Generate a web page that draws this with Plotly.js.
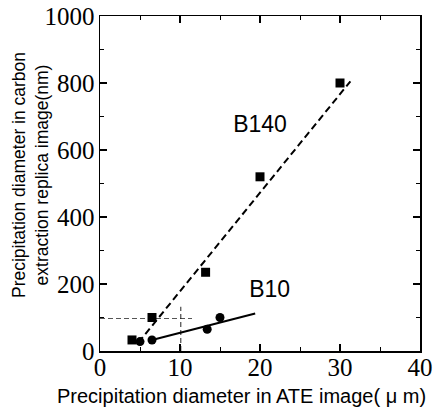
<!DOCTYPE html>
<html><head><meta charset="utf-8">
<script src="https://cdn.plot.ly/plotly-3.0.1.min.js"></script>
<style>html,body{margin:0;padding:0;background:#fff}#chart{width:433px;height:412px}</style>
</head><body><div id="chart"></div>
<script>
// B140 data (squares)
const b140X = [4, 6.5, 13.2, 20, 30];
const b140Y = [33, 100, 235, 520, 800];
// B10 data (circles)
const b10X = [5, 6.5, 13.4, 15];
const b10Y = [28, 33, 65, 100];
// fit lines
const b140FitX = [4.8, 31.3];
const b140FitY = [25, 805];
const b10FitX = [6.5, 19.4];
const b10FitY = [33, 112];
// guide lines
const guideHX = [0, 11.5];
const guideHY = [97, 97];
const guideVX = [10.1, 10.1];
const guideVY = [0, 132];
// labels
const labelText = ['B140', 'B10'];
const labelX = [20, 21.2];
const labelY = [670, 178];
const xTitle = 'Precipitation diameter in ATE image( μ m)';
const yTitle = 'Precipitation diameter in carbon<br>extraction replica image(nm)';

const sans = "'Liberation Sans', Arial, sans-serif";
const serif = "'Liberation Serif', 'Times New Roman', serif";

const traces = [
  {x: guideHX, y: guideHY, mode: 'lines', line: {color: '#555', width: 1, dash: '5px,3px'}, hoverinfo: 'skip'},
  {x: guideVX, y: guideVY, mode: 'lines', line: {color: '#222', width: 1, dash: '5px,3px'}, hoverinfo: 'skip'},
  {x: b140FitX, y: b140FitY, mode: 'lines', line: {color: '#000', width: 2, dash: '7px,4px'}},
  {x: b10FitX, y: b10FitY, mode: 'lines', line: {color: '#000', width: 2}},
  {x: b140X, y: b140Y, mode: 'markers', marker: {symbol: 'square', size: 9, color: '#000'}, cliponaxis: false},
  {x: b10X, y: b10Y, mode: 'markers', marker: {symbol: 'circle', size: 9, color: '#000'}, cliponaxis: false},
  {x: labelX, y: labelY, mode: 'text', text: labelText, textfont: {family: sans, size: 23, color: '#000'}, textposition: 'middle center'}
];

const axisCommon = {
  showline: true, linecolor: '#000', linewidth: 1.5, mirror: 'allticks',
  ticks: 'inside', ticklen: 7, tickwidth: 1.2, tickcolor: '#000',
  showgrid: false, zeroline: false,
  tickfont: {family: serif, size: 25, color: '#000'},
  fixedrange: true
};

const layout = {
  width: 433, height: 412,
  margin: {l: 100, r: 13, t: 16, b: 61},
  showlegend: false,
  paper_bgcolor: '#fff', plot_bgcolor: '#fff',
  xaxis: Object.assign({}, axisCommon, {
    range: [0, 40], dtick: 10, tick0: 0, ticklabelstandoff: -7,
    minor: {dtick: 5, ticks: 'inside', ticklen: 4, tickcolor: '#000', tickwidth: 1}
  }),
  yaxis: Object.assign({}, axisCommon, {
    range: [0, 1000], dtick: 200, tick0: 0, ticklabelstandoff: -1,
    minor: {dtick: 100, ticks: 'inside', ticklen: 4, tickcolor: '#000', tickwidth: 1}
  }),
  annotations: [
    {text: xTitle, xref: 'paper', yref: 'paper', x: 0.441, y: -0.134, xanchor: 'center', yanchor: 'middle',
     showarrow: false, font: {family: sans, size: 20, color: '#000'}},
    {text: yTitle, xref: 'paper', yref: 'paper', x: -0.219, y: 0.525, xanchor: 'center', yanchor: 'middle',
     textangle: -90, showarrow: false, font: {family: sans, size: 17.5, color: '#000'}}
  ]
};

Plotly.newPlot('chart', traces, layout, {displayModeBar: false, staticPlot: true});
</script></body></html>
